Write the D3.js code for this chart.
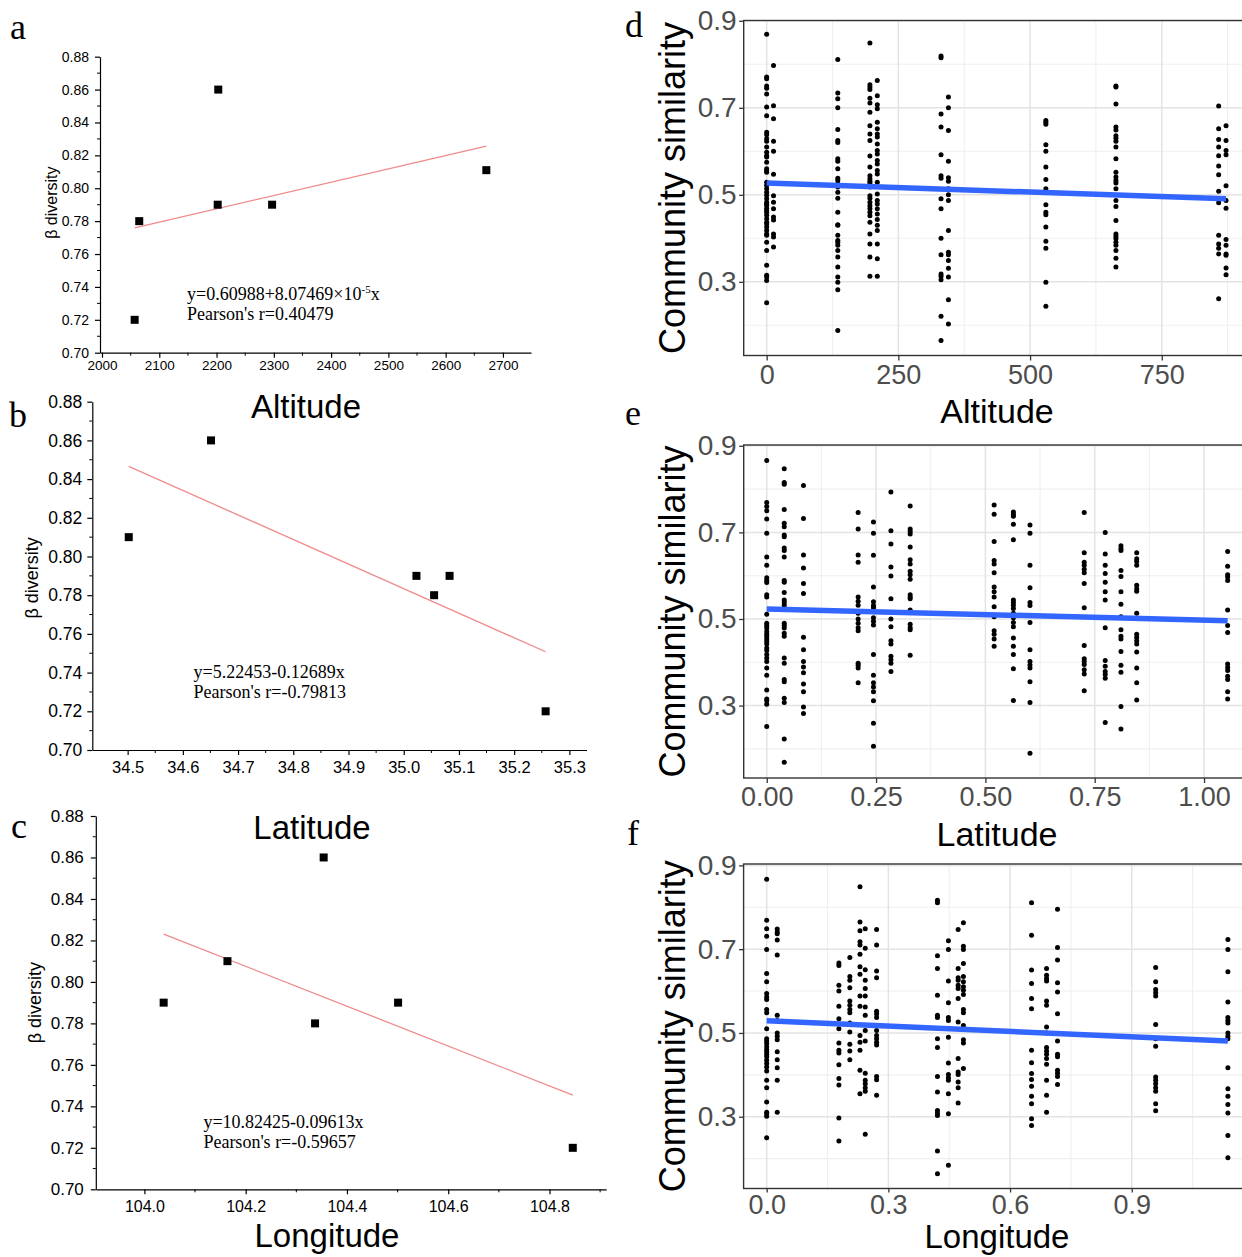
<!DOCTYPE html>
<html>
<head>
<meta charset="utf-8">
<title>β diversity and community similarity</title>
<script src="https://cdn.jsdelivr.net/npm/d3@7/dist/d3.min.js"></script>
<style>
  html, body { margin: 0; padding: 0; background: #fff; }
  svg { display: block; }
</style>
</head>
<body>
<svg id="fig" width="1242" height="1257"></svg>
<script>
// ---------- Panels a–c: β diversity of the six sites ----------
const betaTicks = [0.70, 0.72, 0.74, 0.76, 0.78, 0.80, 0.82, 0.84, 0.86, 0.88];

const altitudeTicks = [2000, 2100, 2200, 2300, 2400, 2500, 2600, 2700];
const siteAltitude = [2057, 2065, 2203, 2202, 2297, 2671];
const betaByAltitude = [0.72, 0.78, 0.86, 0.79, 0.79, 0.811];
const altitudeFit = [0.60988, 8.07469e-5];   // intercept, slope

const latitudeTicks = [34.5, 34.6, 34.7, 34.8, 34.9, 35.0, 35.1, 35.2, 35.3];
const siteLatitude = [34.502, 34.651, 35.023, 35.055, 35.083, 35.257];
const betaByLatitude = [0.81, 0.86, 0.79, 0.78, 0.79, 0.72];
const latitudeFit = [5.22453, -0.12689];

const longitudeTicks = [104.0, 104.2, 104.4, 104.6, 104.8];
const siteLongitude = [104.038, 104.164, 104.354, 104.337, 104.501, 104.846];
const betaByLongitude = [0.79, 0.81, 0.86, 0.78, 0.79, 0.72];
const longitudeFit = [10.82425, -0.09613];

// ---------- Panels d–f: pairwise community similarity vs. distance ----------
const simTicks = [0.3, 0.5, 0.7, 0.9];
const simMinor = [0.2, 0.4, 0.6, 0.8];

const altDistTicks = [0, 250, 500, 750];
const altDistMinor = [125, 375, 625, 875];
const altDist = [0, 13, 135, 196, 210, 331, 345, 530, 663, 858, 872];
const altSim = [
  [0.869,0.771,0.767,0.750,0.745,0.732,0.702,0.682,0.644,0.638,0.629,0.623,0.610,0.598,0.590,0.587,0.575,0.560,0.556,0.552,0.529,0.522,0.514,0.506,0.499,0.491,0.483,0.479,0.476,0.469,0.464,0.460,0.453,0.445,0.437,0.433,0.426,0.418,0.410,0.407,0.391,0.372,0.338,0.315,0.311,0.303,0.252],
  [0.797,0.705,0.675,0.623,0.600,0.547,0.498,0.483,0.468,0.449,0.442,0.410,0.403,0.380],
  [0.811,0.734,0.721,0.700,0.650,0.625,0.620,0.583,0.577,0.560,0.538,0.533,0.525,0.518,0.506,0.492,0.460,0.431,0.430,0.407,0.395,0.391,0.384,0.372,0.357,0.334,0.311,0.299,0.282,0.188],
  [0.849,0.753,0.748,0.742,0.722,0.711,0.690,0.659,0.640,0.625,0.589,0.564,0.544,0.537,0.531,0.527,0.518,0.498,0.492,0.483,0.475,0.468,0.460,0.452,0.437,0.410,0.387,0.357,0.313],
  [0.763,0.728,0.707,0.698,0.667,0.652,0.640,0.633,0.617,0.602,0.594,0.579,0.571,0.556,0.548,0.529,0.502,0.487,0.479,0.468,0.456,0.443,0.430,0.418,0.387,0.353,0.313],
  [0.819,0.815,0.686,0.656,0.592,0.544,0.538,0.491,0.468,0.400,0.362,0.318,0.313,0.305,0.221,0.165],
  [0.725,0.700,0.648,0.577,0.539,0.531,0.514,0.500,0.487,0.418,0.368,0.362,0.349,0.331,0.311,0.259,0.203],
  [0.671,0.667,0.662,0.615,0.600,0.564,0.535,0.514,0.477,0.460,0.454,0.426,0.393,0.377,0.299,0.244],
  [0.750,0.748,0.709,0.656,0.649,0.636,0.630,0.623,0.610,0.583,0.552,0.541,0.533,0.527,0.514,0.487,0.473,0.441,0.410,0.404,0.399,0.391,0.384,0.372,0.354,0.334],
  [0.704,0.652,0.627,0.610,0.590,0.566,0.546,0.508,0.482,0.407,0.387,0.377,0.364,0.261],
  [0.659,0.625,0.602,0.592,0.521,0.487,0.469,0.397,0.384,0.364,0.361,0.332,0.316]
];
const altSmooth = [0.527, 0.491];   // fitted similarity at the nearest and farthest distance

const latDistTicks = [0, 0.25, 0.5, 0.75, 1.0];
const latDistMinor = [0.125, 0.375, 0.625, 0.875, 1.125];
const latDist = [0, 0.04, 0.084, 0.209, 0.244, 0.284, 0.328, 0.520, 0.564, 0.602, 0.726, 0.774, 0.810, 0.846, 1.054];
const latSim = [
  [0.866,0.769,0.760,0.750,0.731,0.698,0.643,0.624,0.595,0.589,0.584,0.556,0.551,0.511,0.490,0.485,0.479,0.471,0.465,0.460,0.454,0.448,0.442,0.433,0.427,0.418,0.410,0.402,0.387,0.370,0.336,0.315,0.311,0.303,0.252],
  [0.847,0.815,0.811,0.753,0.721,0.713,0.694,0.690,0.664,0.658,0.643,0.589,0.585,0.561,0.544,0.538,0.532,0.490,0.485,0.479,0.467,0.460,0.410,0.398,0.360,0.355,0.317,0.307,0.223,0.169],
  [0.808,0.732,0.648,0.618,0.582,0.559,0.458,0.429,0.402,0.389,0.376,0.350,0.332,0.297,0.282],
  [0.746,0.708,0.648,0.631,0.551,0.541,0.532,0.513,0.500,0.490,0.480,0.473,0.398,0.393,0.387,0.353],
  [0.724,0.698,0.647,0.574,0.540,0.531,0.526,0.503,0.495,0.486,0.418,0.370,0.353,0.343,0.332,0.311,0.259,0.206],
  [0.793,0.704,0.673,0.620,0.599,0.547,0.500,0.482,0.450,0.442,0.414,0.406,0.398,0.379],
  [0.761,0.708,0.702,0.696,0.666,0.637,0.627,0.610,0.602,0.592,0.556,0.551,0.547,0.521,0.488,0.480,0.475,0.416],
  [0.763,0.742,0.679,0.635,0.627,0.607,0.574,0.563,0.551,0.528,0.505,0.473,0.465,0.454,0.437],
  [0.747,0.742,0.737,0.719,0.683,0.544,0.538,0.532,0.524,0.513,0.503,0.492,0.482,0.456,0.437,0.418,0.385,0.312],
  [0.717,0.698,0.624,0.572,0.538,0.531,0.492,0.429,0.402,0.394,0.387,0.355,0.307,0.190],
  [0.746,0.653,0.631,0.624,0.615,0.607,0.582,0.526,0.439,0.408,0.402,0.395,0.383,0.373,0.334],
  [0.700,0.650,0.624,0.605,0.585,0.563,0.544,0.480,0.404,0.391,0.379,0.372,0.363,0.261],
  [0.669,0.663,0.658,0.612,0.598,0.563,0.534,0.505,0.475,0.460,0.454,0.425,0.393,0.377,0.298,0.246],
  [0.653,0.639,0.633,0.624,0.578,0.570,0.564,0.513,0.465,0.457,0.450,0.442,0.424,0.387,0.353,0.313],
  [0.656,0.622,0.602,0.597,0.589,0.521,0.485,0.469,0.396,0.388,0.381,0.368,0.360,0.332,0.315]
];
const latSmooth = [0.523, 0.496];

const lonDistTicks = [0, 0.3, 0.6, 0.9];
const lonDistMinor = [0.15, 0.45, 0.75, 1.05];
const lonDist = [0, 0.026, 0.178, 0.205, 0.230, 0.243, 0.271, 0.421, 0.448, 0.472, 0.485, 0.653, 0.690, 0.717, 0.959, 1.137];
const lonSim = [
  [0.867,0.769,0.749,0.731,0.699,0.642,0.622,0.594,0.586,0.580,0.556,0.548,0.510,0.486,0.481,0.475,0.467,0.460,0.455,0.449,0.443,0.435,0.427,0.419,0.409,0.387,0.369,0.335,0.311,0.307,0.301,0.250],
  [0.748,0.741,0.737,0.722,0.686,0.542,0.530,0.500,0.492,0.484,0.455,0.436,0.417,0.387,0.311],
  [0.667,0.661,0.614,0.600,0.564,0.534,0.510,0.476,0.459,0.452,0.424,0.391,0.376,0.297,0.242],
  [0.680,0.635,0.626,0.608,0.576,0.566,0.556,0.548,0.524,0.502,0.473,0.457,0.436],
  [0.849,0.765,0.744,0.718,0.710,0.688,0.658,0.640,0.588,0.564,0.494,0.478,0.459,0.411,0.355],
  [0.749,0.702,0.651,0.626,0.606,0.588,0.562,0.542,0.506,0.481,0.404,0.387,0.379,0.369,0.361,0.258],
  [0.747,0.710,0.648,0.632,0.552,0.545,0.537,0.518,0.506,0.494,0.486,0.478,0.471,0.396,0.388,0.351],
  [0.817,0.811,0.684,0.654,0.590,0.542,0.537,0.486,0.465,0.396,0.359,0.315,0.309,0.303,0.218,0.164],
  [0.720,0.699,0.624,0.572,0.537,0.530,0.490,0.428,0.401,0.393,0.387,0.355,0.307,0.184],
  [0.747,0.654,0.632,0.626,0.614,0.606,0.582,0.526,0.439,0.407,0.401,0.383,0.369,0.333],
  [0.763,0.707,0.699,0.666,0.635,0.622,0.610,0.602,0.592,0.556,0.548,0.518,0.484,0.476,0.415],
  [0.811,0.733,0.650,0.618,0.582,0.558,0.459,0.429,0.403,0.389,0.373,0.349,0.331,0.295,0.279],
  [0.654,0.638,0.630,0.624,0.576,0.566,0.514,0.500,0.465,0.457,0.449,0.439,0.425,0.387,0.351,0.311],
  [0.795,0.704,0.674,0.620,0.598,0.546,0.481,0.449,0.443,0.411,0.404,0.396,0.377],
  [0.656,0.622,0.604,0.596,0.588,0.520,0.486,0.468,0.395,0.387,0.379,0.369,0.361,0.331,0.314],
  [0.723,0.699,0.646,0.574,0.537,0.530,0.524,0.500,0.492,0.486,0.417,0.367,0.349,0.329,0.309,0.255,0.202]
];
const lonSmooth = [0.529, 0.481];

// ---------- shared drawing helpers ----------
const svg = d3.select("#fig");
const SANS = "'Liberation Sans', Arial, Helvetica, sans-serif";
const SERIF = "'Liberation Serif', 'Times New Roman', Times, serif";

function panelLetter(txt, x, y) {
  svg.append("text").attr("x", x).attr("y", y).text(txt)
    .style("font-family", SERIF).style("font-size", "36px").attr("fill", "#000");
}

// Origin-style scatter with a linear fit and its equation
function originPanel(o) {
  const x = d3.scaleLinear().domain(o.xDomain).range([o.left, o.right]);
  const y = d3.scaleLinear().domain([betaTicks[0], betaTicks[betaTicks.length - 1]]).range([o.bottom, o.top]);
  const g = svg.append("g");

  // minor ticks halfway between labelled ones
  const yMinor = betaTicks.slice(0, -1).map((v, i) => (v + betaTicks[i + 1]) / 2);
  g.append("g").selectAll("line").data(yMinor).join("line")
    .attr("x1", o.left - 3).attr("x2", o.left)
    .attr("y1", d => y(d)).attr("y2", d => y(d))
    .attr("stroke", "#000").attr("stroke-width", 1);
  const step = o.xTicks[1] - o.xTicks[0];
  const xMinor = o.xTicks.map(v => v + step / 2).filter(v => v < o.xDomain[1]);
  g.append("g").selectAll("line").data(xMinor).join("line")
    .attr("x1", d => x(d)).attr("x2", d => x(d))
    .attr("y1", o.bottom).attr("y2", o.bottom + 3)
    .attr("stroke", "#000").attr("stroke-width", 1);

  const ya = g.append("g").attr("transform", `translate(${o.left},0)`)
    .call(d3.axisLeft(y).tickValues(betaTicks).tickFormat(d3.format(".2f"))
      .tickSize(5).tickSizeOuter(0).tickPadding(o.yPad));
  const xa = g.append("g").attr("transform", `translate(0,${o.bottom})`)
    .call(d3.axisBottom(x).tickValues(o.xTicks).tickFormat(o.fmt)
      .tickSize(5).tickSizeOuter(0).tickPadding(o.xPad));
  [ya, xa].forEach(a => {
    a.selectAll("path, line").attr("stroke", "#000").attr("stroke-width", 1.2);
    a.selectAll("text").attr("fill", "#000").style("font-family", SANS);
  });
  ya.selectAll("text").style("font-size", o.yFont + "px");
  xa.selectAll("text").style("font-size", o.xFont + "px");

  // fitted line across the sampled range
  const [lo, hi] = d3.extent(o.xs);
  g.append("line")
    .attr("x1", x(lo)).attr("y1", y(o.fit[0] + o.fit[1] * lo))
    .attr("x2", x(hi)).attr("y2", y(o.fit[0] + o.fit[1] * hi))
    .attr("stroke", "#F08a8a").attr("stroke-width", 1.3);

  // sites
  const s = 8;
  g.append("g").selectAll("rect").data(o.xs.map((v, i) => [v, o.ys[i]])).join("rect")
    .attr("x", d => x(d[0]) - s / 2).attr("y", d => y(d[1]) - s / 2)
    .attr("width", s).attr("height", s).attr("fill", "#000");

  // y title
  g.append("text")
    .attr("transform", `translate(${o.yTitleX},${(o.top + o.bottom) / 2 + o.yTitleDy}) rotate(-90)`)
    .attr("text-anchor", "middle").text("β diversity")
    .style("font-family", SANS).style("font-size", o.yTitleFont + "px");

  // equation block
  const eq = g.append("text").attr("x", o.eqX).attr("y", o.eqY)
    .style("font-family", SERIF).style("font-size", "18px");
  o.eq(eq);
  g.append("text").attr("x", o.eqX).attr("y", o.eqY + 20).text(o.pearson)
    .style("font-family", SERIF).style("font-size", "18px");

  // x title sits under the panel
  if (o.xTitle) {
    g.append("text").attr("x", o.xTitle[1]).attr("y", o.xTitle[2])
      .attr("text-anchor", "middle").text(o.xTitle[0])
      .style("font-family", SANS).style("font-size", "33px");
  }
}

// ggplot-style scatter with grid, frame and a smoothing line
function ggPanel(o) {
  const x = d3.scaleLinear().domain(o.xDomain).range([o.left, o.right]);
  const y = d3.scaleLinear().domain(o.yDomain).range([o.bottom, o.top]);
  const g = svg.append("g");

  const vline = (sel, col, w) => sel.attr("x1", d => x(d)).attr("x2", d => x(d))
    .attr("y1", o.top).attr("y2", o.bottom).attr("stroke", col).attr("stroke-width", w);
  const hline = (sel, col, w) => sel.attr("y1", d => y(d)).attr("y2", d => y(d))
    .attr("x1", o.left).attr("x2", o.right).attr("stroke", col).attr("stroke-width", w);

  g.append("g").selectAll("line").data(simMinor).join("line").call(hline, "#EFEFEF", 1.1);
  g.append("g").selectAll("line").data(o.xMinor).join("line").call(vline, "#EFEFEF", 1.1);
  g.append("g").selectAll("line").data(simTicks).join("line").call(hline, "#E3E3E3", 1.5);
  g.append("g").selectAll("line").data(o.xTicks).join("line").call(vline, "#E3E3E3", 1.5);

  const pts = o.dist.flatMap((d, i) => o.sim[i].map(v => [d, v]));
  g.append("g").selectAll("circle").data(pts).join("circle")
    .attr("cx", d => x(d[0])).attr("cy", d => y(d[1])).attr("r", 2.5).attr("fill", "#000");

  const d0 = o.dist[0], d1 = o.dist[o.dist.length - 1];
  g.append("line")
    .attr("x1", x(d0)).attr("y1", y(o.smooth[0]))
    .attr("x2", x(d1)).attr("y2", y(o.smooth[1]))
    .attr("stroke", "#3366FF").attr("stroke-width", 5.5);

  g.append("rect").attr("x", o.left).attr("y", o.top)
    .attr("width", o.right - o.left).attr("height", o.bottom - o.top)
    .attr("fill", "none").attr("stroke", "#333").attr("stroke-width", 1.4);

  const ya = g.append("g").attr("transform", `translate(${o.left},0)`)
    .call(d3.axisLeft(y).tickValues(simTicks).tickFormat(d3.format(".1f"))
      .tickSize(4.5).tickSizeOuter(0).tickPadding(2.5));
  const xa = g.append("g").attr("transform", `translate(0,${o.bottom})`)
    .call(d3.axisBottom(x).tickValues(o.xTicks).tickFormat(o.fmt)
      .tickSize(o.tickLen).tickSizeOuter(0).tickPadding(o.tickPad));
  [ya, xa].forEach(a => {
    a.select(".domain").remove();
    a.selectAll("line").attr("stroke", "#333").attr("stroke-width", 1.3);
    a.selectAll("text").attr("fill", "#4D4D4D").style("font-family", SANS).style("font-size", "27px");
  });
  ya.selectAll("text").style("font-size", "28px");

  g.append("text")
    .attr("transform", `translate(685,${(o.top + o.bottom) / 2}) rotate(-90)`)
    .attr("text-anchor", "middle").text("Community similarity")
    .style("font-family", SANS).style("font-size", "36px");
  g.append("text").attr("x", 997).attr("y", o.titleY)
    .attr("text-anchor", "middle").text(o.title)
    .style("font-family", SANS).style("font-size", o.titleFont + "px");
}

// ---------- panel a ----------
originPanel({
  left: 100, right: 531, top: 56.7, bottom: 352.7,
  xDomain: [1996.5, 2749], xTicks: altitudeTicks, fmt: d3.format("d"),
  xs: siteAltitude, ys: betaByAltitude, fit: altitudeFit,
  yFont: 14, xFont: 13.5, yPad: 6, xPad: 3,
  yTitleX: 57, yTitleDy: -2, yTitleFont: 16,
  eqX: 187, eqY: 300,
  eq: t => {
    t.append("tspan").text("y=0.60988+8.07469×10");
    t.append("tspan").attr("dy", -7).style("font-size", "11px").text("-5");
    t.append("tspan").attr("dy", 7).text("x");
  },
  pearson: "Pearson's r=0.40479",
  xTitle: ["Altitude", 306, 418]
});

// ---------- panel b ----------
originPanel({
  left: 92.3, right: 586.5, top: 401.7, bottom: 750,
  xDomain: [34.436, 35.331], xTicks: latitudeTicks, fmt: d3.format(".1f"),
  xs: siteLatitude, ys: betaByLatitude, fit: latitudeFit,
  yFont: 17.5, xFont: 16.5, yPad: 5, xPad: 6,
  yTitleX: 38, yTitleDy: 2, yTitleFont: 18,
  eqX: 193.5, eqY: 678,
  eq: t => t.text("y=5.22453-0.12689x"),
  pearson: "Pearson's r=-0.79813",
  xTitle: ["Latitude", 312, 839]
});

// ---------- panel c ----------
originPanel({
  left: 95.8, right: 606.2, top: 816, bottom: 1189.3,
  xDomain: [103.904, 104.912], xTicks: longitudeTicks, fmt: d3.format(".1f"),
  xs: siteLongitude, ys: betaByLongitude, fit: longitudeFit,
  yFont: 17, xFont: 16, yPad: 7, xPad: 6,
  yTitleX: 41, yTitleDy: 0, yTitleFont: 18,
  eqX: 203.4, eqY: 1128,
  eq: t => t.text("y=10.82425-0.09613x"),
  pearson: "Pearson's r=-0.59657",
  xTitle: ["Longitude", 327, 1247]
});

// ---------- panels d–f ----------
ggPanel({
  left: 743.7, right: 1249, top: 20.5, bottom: 355.5,
  xDomain: [-43.6, 915.6], yDomain: [0.1306, 0.9007],
  xTicks: altDistTicks, xMinor: altDistMinor, fmt: d3.format("d"),
  dist: altDist, sim: altSim, smooth: altSmooth,
  tickLen: 5, tickPad: 4,
  title: "Altitude", titleY: 423, titleFont: 34
});
ggPanel({
  left: 743.7, right: 1250.7, top: 445, bottom: 778,
  xDomain: [-0.0527, 1.1067], yDomain: [0.1328, 0.9018],
  xTicks: latDistTicks, xMinor: latDistMinor, fmt: d3.format(".2f"),
  dist: latDist, sim: latSim, smooth: latSmooth,
  tickLen: 5, tickPad: 4,
  title: "Latitude", titleY: 846, titleFont: 34
});
ggPanel({
  left: 743.6, right: 1251, top: 864, bottom: 1188.5,
  xDomain: [-0.0569, 1.194], yDomain: [0.1287, 0.9033],
  xTicks: lonDistTicks, xMinor: lonDistMinor, fmt: d3.format(".1f"),
  dist: lonDist, sim: lonSim, smooth: lonSmooth,
  tickLen: 4, tickPad: 2,
  title: "Longitude", titleY: 1248, titleFont: 33
});

panelLetter("a", 10, 39);
panelLetter("b", 9, 427);
panelLetter("c", 11, 838);
panelLetter("d", 625, 37);
panelLetter("e", 625, 425);
panelLetter("f", 627, 845);
</script>
</body>
</html>
